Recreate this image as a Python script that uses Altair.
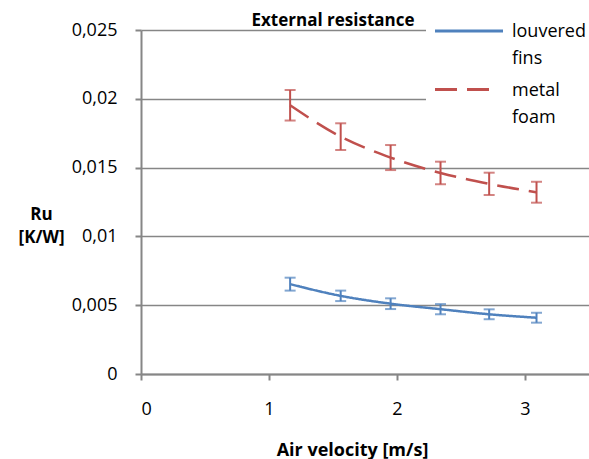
import altair as alt
import pandas as pd

velocity = [1.165, 1.56, 1.95, 2.34, 2.72, 3.09]
louvered = [0.00653, 0.00568, 0.00511, 0.00471, 0.00434, 0.00409]
louvered_err = [0.00047, 0.00038, 0.00039, 0.00037, 0.00036, 0.00036]
foam = [0.01953, 0.01725, 0.01573, 0.01461, 0.01382, 0.01321]
foam_err = [0.00111, 0.00097, 0.00091, 0.00082, 0.00081, 0.00076]
series_names = ["louvered fins", "metal foam"]
legend_lines = [["louvered", "fins"], ["metal", "foam"]]
colors = ["#4F81BD", "#C0504D"]
dashes = [[1, 0], [22, 10]]
x_ticks = [0, 1, 2, 3]
y_ticks = [0, 0.005, 0.01, 0.015, 0.02, 0.025]
chart_title = "External resistance"
x_title = "Air velocity [m/s]"
y_title = ["Ru", "[K/W]"]

rows = []
for name, vals, errs in [(series_names[0], louvered, louvered_err), (series_names[1], foam, foam_err)]:
    for x, v, e in zip(velocity, vals, errs):
        rows.append({"v": x, "R": v, "lo": v - e, "hi": v + e, "series": name})
df = pd.DataFrame(rows)

FONT = "Open Sans"
GRAY = "#868686"

base = alt.Chart(df)

xaxis = alt.Axis(values=x_ticks, format="d", grid=False, title=x_title,
                 titleFontWeight="bold", titleFontSize=18, titleX=211, titleY=76,
                 titleBaseline="middle", labelPadding=20, labelFontSize=18,
                 tickSize=6, labelColor="black", titleColor="black")
yaxis = alt.Axis(values=y_ticks,
                 labelExpr="replace(format(datum.value, '~g'), '.', ',')",
                 title=y_title, titleAngle=0, titleX=-100, titleY=184,
                 titleAlign="center", titleBaseline="middle", titleLineHeight=23,
                 titleFontWeight="bold", titleFontSize=17, labelFontSize=18,
                 labelPadding=18, tickSize=6, labelColor="black", titleColor="black")
xscale = alt.Scale(domain=[0, 3.5], nice=False)
yscale = alt.Scale(domain=[0, 0.025], nice=False)

lines = base.mark_line(interpolate="monotone", strokeWidth=2.5).encode(
    x=alt.X("v:Q", scale=xscale, axis=xaxis),
    y=alt.Y("R:Q", scale=yscale, axis=yaxis),
    color=alt.Color("series:N", scale=alt.Scale(domain=series_names, range=colors), legend=None),
    strokeDash=alt.StrokeDash("series:N", scale=alt.Scale(domain=series_names, range=dashes), legend=None),
)

layers = [lines]
for name, c in zip(series_names, colors):
    layers.append(
        base.transform_filter(alt.datum.series == name)
        .mark_errorbar(ticks={"size": 11}, thickness=2, color=c)
        .encode(x=alt.X("v:Q", scale=xscale, axis=xaxis),
                y=alt.Y("lo:Q", scale=yscale, axis=yaxis), y2="hi:Q")
    )

# legend box (white background hiding the gridlines), drawn as in the original
one = pd.DataFrame({"k": [0]})
layers.append(alt.Chart(one).mark_rect(fill="white").encode(
    x=alt.value(285), x2=alt.value(452), y=alt.value(-6), y2=alt.value(100)))
leg_y = [1, 59.5]
leg_len = [68, 59]
for i, name in enumerate(series_names):
    d = pd.DataFrame({"series": [name], "label": [legend_lines[i]]})
    layers.append(alt.Chart(d).mark_rule(strokeWidth=3, color=colors[i], strokeDash=dashes[i]).encode(
        x=alt.value(294), x2=alt.value(294 + leg_len[i]), y=alt.value(leg_y[i])))
    layers.append(alt.Chart(d).mark_text(align="left", baseline="alphabetic", fontSize=18, font=FONT,
                                         lineHeight=27, color="black").encode(
        x=alt.value(371), y=alt.value(leg_y[i] + 6), text="label"))

layers.append(alt.Chart(pd.DataFrame({"t": [chart_title]})).mark_text(
    align="center", baseline="alphabetic", fontSize=17, fontWeight="bold", font=FONT, color="black").encode(
    x=alt.value(192), y=alt.value(-4), text="t:N"))

chart = alt.layer(*layers).properties(
    width=448, height=344,
    autosize=alt.AutoSizeParams(type="none"),
    padding={"left": 141, "top": 30, "right": 0, "bottom": 85},
).configure_view(stroke=None).configure_axis(
    labelFont=FONT, titleFont=FONT, domainColor=GRAY, domainWidth=2, tickColor=GRAY,
    tickWidth=2, gridColor=GRAY, gridWidth=1.3, gridOpacity=1,
)

chart.save("out.html", embed_options={"renderer": "svg", "actions": False})
